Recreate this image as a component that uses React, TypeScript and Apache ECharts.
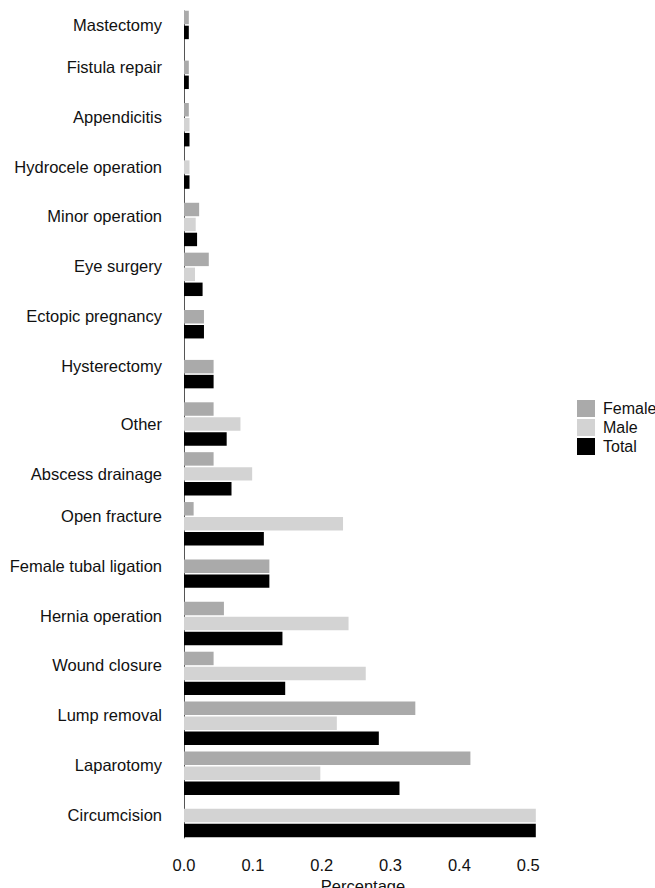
import React, { useEffect, useRef } from "react";
import * as echarts from "echarts";

const categories = [
  "Mastectomy",
  "Fistula repair",
  "Appendicitis",
  "Hydrocele operation",
  "Minor operation",
  "Eye surgery",
  "Ectopic pregnancy",
  "Hysterectomy",
  "Other",
  "Abscess drainage",
  "Open fracture",
  "Female tubal ligation",
  "Hernia operation",
  "Wound closure",
  "Lump removal",
  "Laparotomy",
  "Circumcision",
];

const female: (number | null)[] = [
  0.007, 0.007, 0.007, null, 0.022, 0.036, 0.029, 0.043, 0.043, 0.043, 0.014, 0.124, 0.058, 0.043, 0.336, 0.416, null,
];
const male: (number | null)[] = [
  null, null, 0.008, 0.008, 0.017, 0.016, null, null, 0.082, 0.099, 0.231, null, 0.239, 0.264, 0.222, 0.198, 0.511,
];
const total: (number | null)[] = [
  0.007, 0.007, 0.008, 0.008, 0.019, 0.027, 0.029, 0.043, 0.062, 0.069, 0.116, 0.124, 0.143, 0.147, 0.283, 0.313, 0.511,
];

const seriesNames = ["Female", "Male", "Total"];
const seriesValues = [female, male, total];
const xTicks = [0, 0.1, 0.2, 0.3, 0.4, 0.5];

const colors = ["#aaaaaa", "#d3d3d3", "#000000"];
const centeredLabels = new Set(["Mastectomy", "Other", "Abscess drainage"]);
const FONT = "'Liberation Sans', Arial, Helvetica, sans-serif";

export default function App() {
  const ref = useRef<HTMLDivElement>(null);

  useEffect(() => {
    if (!ref.current) return;
    const chart = echarts.init(ref.current, undefined, { renderer: "svg" });

    const makeSeries = (k: number) => ({
      type: "custom",
      name: seriesNames[k],
      xAxisIndex: 0,
      yAxisIndex: 0,
      itemStyle: { color: colors[k] },
      encode: { x: 0, y: 1 },
      data: seriesValues[k]
        .map((v, i) => (v == null ? null : [v, i]))
        .filter((d) => d != null),
      renderItem: (params: any, api: any) => {
        const v = api.value(0);
        const idx = api.value(1);
        const present = [0, 1, 2].filter((s) => seriesValues[s][idx] != null);
        const n = present.length;
        const j = present.indexOf(k);
        const start = api.coord([0, idx]);
        const end = api.coord([v, idx]);
        const band = api.size([0, 1])[1];
        const pitch = band * 0.3;
        const h = band * 0.27;
        const yc = start[1] + (j - (n - 1) / 2) * pitch;
        return {
          type: "rect",
          shape: { x: start[0], y: yc - h / 2, width: end[0] - start[0], height: h },
          style: { fill: colors[k] },
        };
      },
    });

    chart.setOption({
      animation: false,
      backgroundColor: "#ffffff",
      textStyle: { fontFamily: FONT },
      grid: [
        { left: 184, right: 113, top: 0, bottom: 40, outerBoundsMode: "none", containLabel: false },
        { left: 184, right: 113, top: 11, bottom: 50, outerBoundsMode: "none", containLabel: false },
      ],
      legend: {
        orient: "vertical",
        left: 572,
        top: 395,
        itemWidth: 18,
        itemHeight: 17,
        itemGap: 2,
        icon: "rect",
        data: seriesNames,
        textStyle: { fontSize: 16, color: "#111", fontFamily: FONT, padding: [0, 0, 0, 3] },
      },
      xAxis: [
        {
          type: "value",
          gridIndex: 0,
          min: 0,
          max: 0.52,
          interval: 0.1,
          axisLine: { show: false },
          axisTick: { show: false },
          splitLine: { show: false },
          axisLabel: {
            fontSize: 16.5,
            color: "#111",
            fontFamily: FONT,
            margin: 8,
            showMaxLabel: false,
            formatter: (v: number) => {
              const t = xTicks.find((x) => Math.abs(x - v) < 1e-6);
              return t == null ? "" : t.toFixed(1);
            },
          },
          name: "Percentage",
          nameLocation: "middle",
          nameGap: 28,
          nameTextStyle: { fontSize: 16.5, color: "#111", fontFamily: FONT },
        },
        {
          type: "value",
          gridIndex: 1,
          min: 0,
          max: 1,
          show: false,
        },
      ],
      yAxis: [
        {
          type: "category",
          gridIndex: 0,
          inverse: true,
          data: categories,
          axisLine: { show: false },
          axisTick: { show: false },
          splitLine: { show: false },
          axisLabel: {
            fontSize: 16.5,
            color: "#111",
            fontFamily: FONT,
            margin: 22,
            lineHeight: 16,
            formatter: (v: string) => (centeredLabels.has(v) ? v : v + "\n "),
          },
        },
        {
          type: "value",
          gridIndex: 1,
          min: 0,
          max: 1,
          axisLine: { show: true, onZero: false, lineStyle: { color: "#555", width: 1 } },
          axisTick: { show: false },
          axisLabel: { show: false },
          splitLine: { show: false },
        },
      ],
      series: [makeSeries(0), makeSeries(1), makeSeries(2)],
    });

    return () => chart.dispose();
  }, []);

  return (
    <div
      ref={ref}
      style={{ position: "fixed", left: 0, top: 0, width: 655, height: 888, background: "#fff" }}
    />
  );
}
